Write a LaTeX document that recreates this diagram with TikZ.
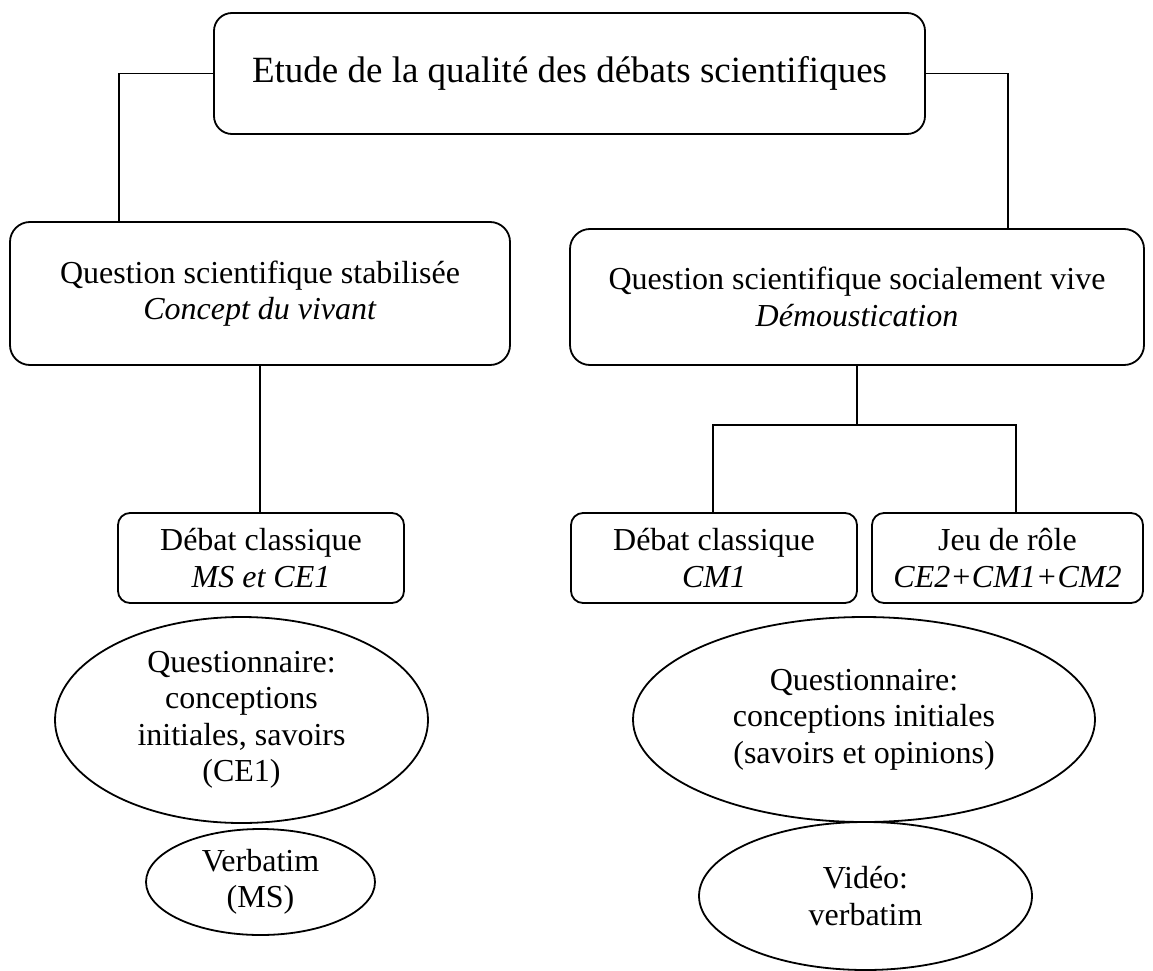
\documentclass[tikz,border=0pt]{standalone}
\usepackage{fontspec}
\setmainfont{Liberation Serif}
\usetikzlibrary{shapes.geometric}
\begin{document}
\begin{tikzpicture}[x=1pt,y=-1pt,
  every node/.style={font=\fontsize{32}{36.5}\selectfont, align=center, inner sep=0pt},
  rbox/.style={draw, line width=1.8pt, rounded corners=#1},
  oval/.style={draw, line width=1.8pt, ellipse},
  conn/.style={line width=1.6pt}]
\useasboundingbox (0,0) rectangle (1153,971);

\node[rbox=18pt, minimum width=711pt, minimum height=121pt,
      font=\fontsize{37}{42}\selectfont] (top) at (569.5,73.5)
  {Etude de la qualité des débats scientifiques};

\node[rbox=20pt, minimum width=500pt, minimum height=143pt] (lbox) at (260,293.5)
  {Question scientifique stabilisée\\ \textit{Concept du vivant}};
\node[rbox=20pt, minimum width=574pt, minimum height=136pt] (rbox) at (857,297)
  {Question scientifique socialement vive\\ \textit{Démoustication}};

\node[rbox=12pt, minimum width=286pt, minimum height=90pt] (ldeb) at (261,558)
  {Débat classique\\ \textit{MS et CE1}};
\node[rbox=12pt, minimum width=286pt, minimum height=90pt] (rdeb) at (714,558)
  {Débat classique\\ \textit{CM1}};
\node[rbox=12pt, minimum width=271pt, minimum height=90pt] (jeu) at (1007.5,558)
  {Jeu de rôle\\ \textit{CE2+CM1+CM2}};

\node[oval, minimum width=373pt, minimum height=206pt] (lq) at (241.5,720)
  {Questionnaire:\\ conceptions\\ initiales, savoirs\\ (CE1)};
\node[oval, minimum width=229pt, minimum height=106pt] (verb) at (260.5,882)
  {Verbatim\\ (MS)};
\node[oval, minimum width=462pt, minimum height=205pt] (rq) at (864,719.5)
  {Questionnaire:\\ conceptions initiales\\ (savoirs et opinions)};
\node[oval, minimum width=333pt, minimum height=148pt] (vid) at (865.5,896)
  {Vidéo:\\ verbatim};

\coordinate (lx) at (119,0);
\coordinate (rx) at (1008,0);
\coordinate (b1) at (713,425);
\coordinate (b2) at (1016,425);

\draw[conn] (top.west) -| (lbox.north -| lx);
\draw[conn] (top.east) -| (rbox.north -| rx);
\draw[conn] (lbox.south) -- (lbox.south |- ldeb.north);
\draw[conn] (rbox.south) -- (rbox.south |- b1);
\draw[conn] (rdeb.north -| b1) -- (b1) -- (b2) -- (jeu.north -| b2);
\end{tikzpicture}
\end{document}
